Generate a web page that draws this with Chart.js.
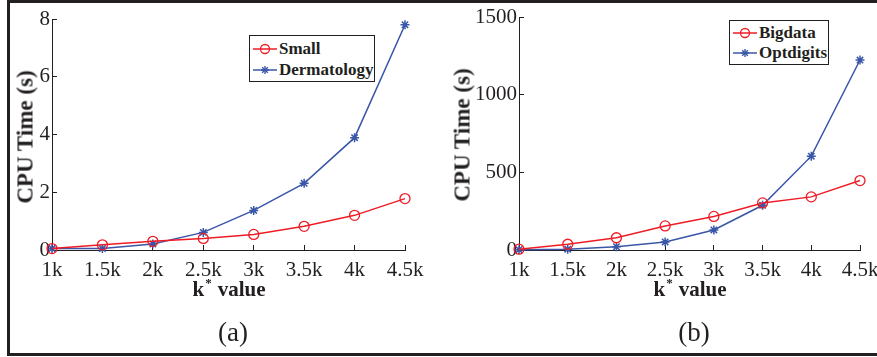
<!DOCTYPE html>
<html>
<head>
<meta charset="utf-8">
<script src="https://cdn.jsdelivr.net/npm/chart.js@4/dist/chart.umd.min.js"></script>
<style>
  html, body { margin:0; padding:0; background:#fff; }
  body { width:877px; height:357px; position:relative; overflow:hidden; font-family:"Liberation Serif", serif; color:#231f20; }
  canvas { position:absolute; top:0; }
  #frame { position:absolute; left:7px; top:0; width:900px; height:356px; box-sizing:border-box; border:3px solid #231f20; border-right:none; pointer-events:none; }
  .ytitle { position:absolute; font-weight:bold; font-size:23px; white-space:nowrap; transform:translate(-50%,-50%) rotate(-90deg); line-height:1; }
  .xtitle { position:absolute; font-weight:bold; font-size:21px; white-space:nowrap; transform:translate(-50%,0); line-height:1; }
  .xtitle sup { font-size:13px; vertical-align:0; position:relative; top:-9px; margin:0 6px 0 1px; }
  .cap { position:absolute; font-size:27px; white-space:nowrap; transform:translate(-50%,-50%); line-height:1; }
  .legend { position:absolute; border:1.5px solid #231f20; background:#fff; box-sizing:border-box; }
  .row { position:absolute; left:0; height:20px; display:flex; align-items:center; font-weight:bold; font-size:17px; white-space:nowrap; }
  .row svg { display:block; margin-right:1px; }
</style>
</head>
<body>
<canvas id="c1" width="438" height="357" style="left:0"></canvas>
<canvas id="c2" width="439" height="357" style="left:438px"></canvas>

<div class="ytitle" style="left:25px; top:137px;">CPU Time (s)</div>
<div class="ytitle" style="left:462px; top:135px;">CPU Time (s)</div>
<div class="xtitle" style="left:229px; top:279px;">k<sup>*</sup>value</div>
<div class="xtitle" style="left:690px; top:279px;">k<sup>*</sup>value</div>
<div class="cap" style="left:233px; top:332px;">(a)</div>
<div class="cap" style="left:694px; top:332px;">(b)</div>

<div class="legend" style="left:249px; top:35px; width:126px; height:47px;">
  <div class="row" style="top:3px; left:2px;"><svg width="26" height="14"><line x1="1" y1="7" x2="25" y2="7" stroke="#ee1c25" stroke-width="1.5"/><circle cx="13" cy="7" r="4.5" fill="none" stroke="#ee1c25" stroke-width="1.3"/></svg>Small</div>
  <div class="row" style="top:24px; left:2px;"><svg width="26" height="14"><line x1="1" y1="7" x2="25" y2="7" stroke="#3a56a8" stroke-width="1.5"/><g stroke="#3a56a8" stroke-width="1.4"><line x1="9" y1="7" x2="17" y2="7"/><line x1="13" y1="3" x2="13" y2="11"/><line x1="10.2" y1="4.2" x2="15.8" y2="9.8"/><line x1="10.2" y1="9.8" x2="15.8" y2="4.2"/></g></svg>Dermatology</div>
</div>

<div class="legend" style="left:729px; top:20px; width:100px; height:45px;">
  <div class="row" style="top:2px; left:2px;"><svg width="26" height="14"><line x1="1" y1="7" x2="25" y2="7" stroke="#ee1c25" stroke-width="1.5"/><circle cx="13" cy="7" r="4.5" fill="none" stroke="#ee1c25" stroke-width="1.3"/></svg>Bigdata</div>
  <div class="row" style="top:22px; left:2px;"><svg width="26" height="14"><line x1="1" y1="7" x2="25" y2="7" stroke="#3a56a8" stroke-width="1.5"/><g stroke="#3a56a8" stroke-width="1.4"><line x1="9" y1="7" x2="17" y2="7"/><line x1="13" y1="3" x2="13" y2="11"/><line x1="10.2" y1="4.2" x2="15.8" y2="9.8"/><line x1="10.2" y1="9.8" x2="15.8" y2="4.2"/></g></svg>Optdigits</div>
</div>

<div id="frame"></div>

<script>
// ---- data ----
const categories = ['1k', '1.5k', '2k', '2.5k', '3k', '3.5k', '4k', '4.5k'];
const small       = [0.05, 0.18, 0.30, 0.40, 0.54, 0.82, 1.20, 1.78];
const dermatology = [0.05, 0.05, 0.21, 0.61, 1.37, 2.31, 3.89, 7.80];
const bigdata     = [5, 37, 79, 155, 216, 303, 342, 447];
const optdigits   = [2, 5, 21, 52, 129, 288, 604, 1223];
const yTicksA = [0, 2, 4, 6, 8];
const yTicksB = [0, 500, 1000, 1500];

const RED = '#ee1c25';
const BLUE = '#3a56a8';
const INK = '#231f20';

function redSeries(label, data) {
  return { label, data, borderColor: RED, backgroundColor: 'rgba(0,0,0,0)', borderWidth: 1.5,
    pointStyle: 'circle', pointRadius: 5, pointBorderWidth: 1.3, pointBackgroundColor: 'rgba(0,0,0,0)',
    pointBorderColor: RED, tension: 0, clip: false };
}
function blueSeries(label, data) {
  return { label, data, borderColor: BLUE, backgroundColor: BLUE, borderWidth: 1.5,
    pointStyle: 'star', pointRadius: 4.5, pointBorderWidth: 1.5, pointBorderColor: BLUE,
    tension: 0, clip: false };
}

function makeChart(id, datasets, yMax, yStep, yTicks, yAxisWidth, pad) {
  return new Chart(document.getElementById(id), {
    type: 'line',
    data: { labels: categories, datasets },
    options: {
      responsive: false, animation: false, devicePixelRatio: 1,
      layout: { padding: pad },
      plugins: { legend: { display: false }, tooltip: { enabled: false } },
      scales: {
        x: {
          type: 'category', offset: false,
          grid: { display: true, drawOnChartArea: false, drawTicks: true, tickLength: -5, color: INK, lineWidth: 1 },
          border: { display: true, color: INK, width: 1 },
          ticks: { autoSkip: false, maxRotation: 0, padding: 13, color: INK,
                   font: { family: 'Liberation Serif', size: 21 } },
          afterFit(s) { s.height = 107; s.paddingLeft = 0; s.paddingRight = 0; }
        },
        y: {
          min: 0, max: yMax,
          afterBuildTicks(s) { s.ticks = yTicks.map(v => ({ value: v })); },
          grid: { display: true, drawOnChartArea: false, drawTicks: true, tickLength: -5, color: INK, lineWidth: 1 },
          border: { display: true, color: INK, width: 1 },
          ticks: { stepSize: yStep, padding: 7, color: INK, font: { family: 'Liberation Serif', size: 21 },
                   callback: (v) => String(v) },
          afterFit(s) { s.width = yAxisWidth; s.paddingTop = 0; s.paddingBottom = 0; }
        }
      }
    }
  });
}

makeChart('c1', [redSeries('Small', small), blueSeries('Dermatology', dermatology)],
  8, 2, yTicksA, 52, { left: 0, right: 33, top: 19, bottom: 0 });
makeChart('c2', [redSeries('Bigdata', bigdata), blueSeries('Optdigits', optdigits)],
  1500, 500, yTicksB, 81, { left: 0, right: 17, top: 17, bottom: 0 });
</script>
</body>
</html>
